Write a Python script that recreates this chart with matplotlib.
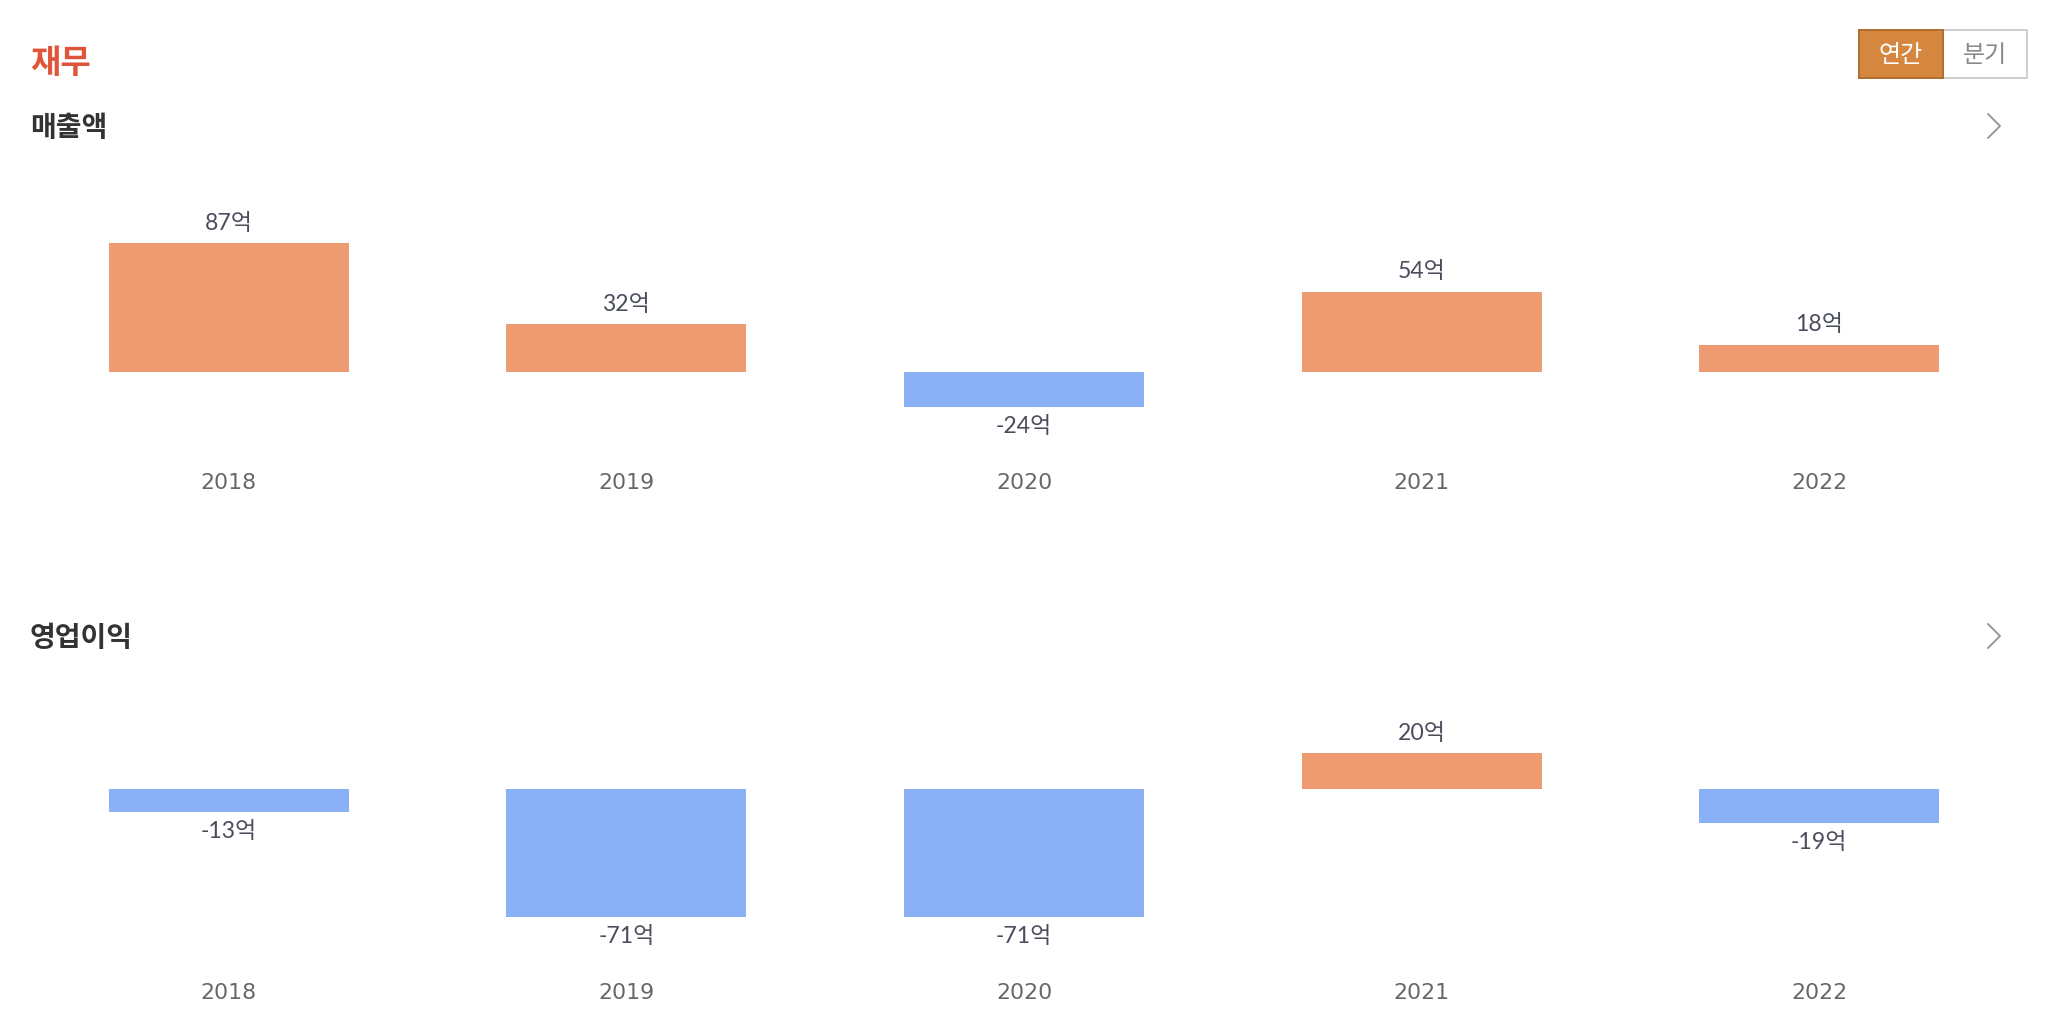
import matplotlib
matplotlib.use("Agg")
import matplotlib.pyplot as plt
from matplotlib.patches import Rectangle

years = ["2018", "2019", "2020", "2021", "2022"]
sales = [87, 32, -24, 54, 18]
op_profit = [-13, -71, -71, 20, -19]

section_title = "재무"
panel_titles = ["매출액", "영업이익"]
toggle_labels = ["연간", "분기"]

POS = "#ef9b72"
NEG = "#8ab0f5"
KR = ["Noto Sans CJK KR", "DejaVu Sans"]
VAL = ["Lato", "Noto Sans CJK KR"]

W, H = 2048, 1032
fig = plt.figure(figsize=(W / 72, H / 72), dpi=72)

# decoration layer in pixel coordinates
deco = fig.add_axes([0, 0, 1, 1])
deco.set_xlim(0, W)
deco.set_ylim(H, 0)
deco.axis("off")

deco.text(30, 63, section_title, family=KR, fontsize=33, fontweight="bold",
          color="#e0553a", va="center", ha="left")

# toggle buttons
deco.add_patch(Rectangle((1943, 30), 84, 48, facecolor="white", edgecolor="#d0d0d0", lw=2))
deco.add_patch(Rectangle((1859, 30), 84, 48, facecolor="#d5863f", edgecolor="#b06f2c", lw=2))
deco.text(1901, 55, toggle_labels[0], family=KR, fontsize=24, color="white", ha="center", va="center")
deco.text(1985, 55, toggle_labels[1], family=KR, fontsize=24, color="#888888", ha="center", va="center")

panel_offset = 510
for i, (title, vals) in enumerate(zip(panel_titles, [sales, op_profit])):
    dy = i * panel_offset
    deco.text(30, 128 + dy, title, family=KR, fontsize=28, fontweight="bold",
              color="#333333", va="center", ha="left")
    deco.plot([1988, 2000, 1988], [114 + dy, 126 + dy, 138 + dy], color="#9a9a9a", lw=2,
              solid_capstyle="round")

    # bar panel: data range mapped onto px 243..407 (shifted per panel)
    top_px, bot_px = 243 + dy, 407 + dy
    ax = fig.add_axes([30 / W, 1 - bot_px / H, 1988 / W, (bot_px - top_px) / H])
    ax.set_xlim(-0.5, 4.5)
    ax.set_ylim(min(min(vals), 0), max(max(vals), 0))
    colors = [POS if v >= 0 else NEG for v in vals]
    ax.bar(range(len(vals)), vals, width=0.604, color=colors)
    for x, v in enumerate(vals):
        ax.annotate(f"{v}억", (x, v), xytext=(0, 20 if v >= 0 else -19),
                    textcoords="offset points", ha="center", va="center",
                    family=VAL, fontsize=23, color="#4a4e5c")
    ax.set_xticks(range(len(years)))
    ax.set_xticklabels(years, fontsize=22, color="#666666", family=["DejaVu Sans"])
    ax.tick_params(axis="x", length=0, pad=66)
    ax.set_yticks([])
    for s in ax.spines.values():
        s.set_visible(False)
    ax.patch.set_alpha(0)

fig.savefig("out.png", dpi=72, facecolor="white")
